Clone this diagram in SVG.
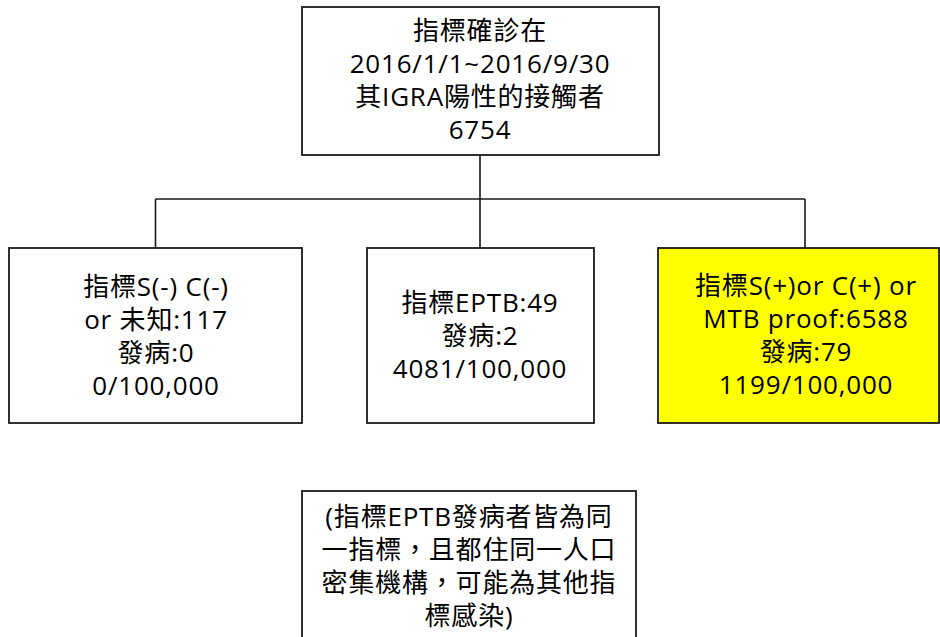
<svg xmlns="http://www.w3.org/2000/svg" width="940" height="637" viewBox="0 0 940 637">
<style>
.box{fill:#fff;stroke:#1a1a1a;stroke-width:1.8}
.hl{fill:#ffff00}
.t{font-family:"Open Sans","Noto Sans CJK TC",sans-serif;font-size:26px;letter-spacing:0.8px;fill:#000;text-anchor:middle}
.c{fill:none;stroke:#1a1a1a;stroke-width:1.6}
</style>
<rect width="940" height="637" fill="#fff"/>
<g id="connectors">
<path class="c" d="M480,155 V248 M155.5,199 H805 M155.5,199 V248 M805,199 V248"/>
</g>
<g id="root">
<rect class="box" x="302" y="7" width="357" height="148"/>
<text class="t" x="480" y="40">指標確診在</text>
<text class="t" x="480" y="73">2016/1/1~2016/9/30</text>
<text class="t" x="480" y="106">其IGRA陽性的接觸者</text>
<text class="t" x="480" y="139">6754</text>
</g>
<g id="neg">
<rect class="box" x="9" y="248" width="293" height="175"/>
<text class="t" x="156" y="296">指標S(-) C(-)</text>
<text class="t" x="156" y="329">or 未知:117</text>
<text class="t" x="156" y="362">發病:0</text>
<text class="t" x="156" y="395">0/100,000</text>
</g>
<g id="eptb">
<rect class="box" x="367" y="248" width="227" height="175"/>
<text class="t" x="480" y="312">指標EPTB:49</text>
<text class="t" x="480" y="345">發病:2</text>
<text class="t" x="480" y="378">4081/100,000</text>
</g>
<g id="pos">
<rect class="box hl" x="658" y="248" width="281" height="175"/>
<text class="t" x="806" y="295">指標S(+)or C(+) or</text>
<text class="t" x="806" y="328">MTB proof:6588</text>
<text class="t" x="806" y="361">發病:79</text>
<text class="t" x="806" y="394">1199/100,000</text>
</g>
<g id="note">
<rect class="box" x="302" y="491" width="334" height="160"/>
<text class="t" x="469" y="526">(指標EPTB發病者皆為同</text>
<text class="t" x="469" y="559">一指標，且都住同一人口</text>
<text class="t" x="469" y="592">密集機構，可能為其他指</text>
<text class="t" x="469" y="625">標感染)</text>
</g>
</svg>
